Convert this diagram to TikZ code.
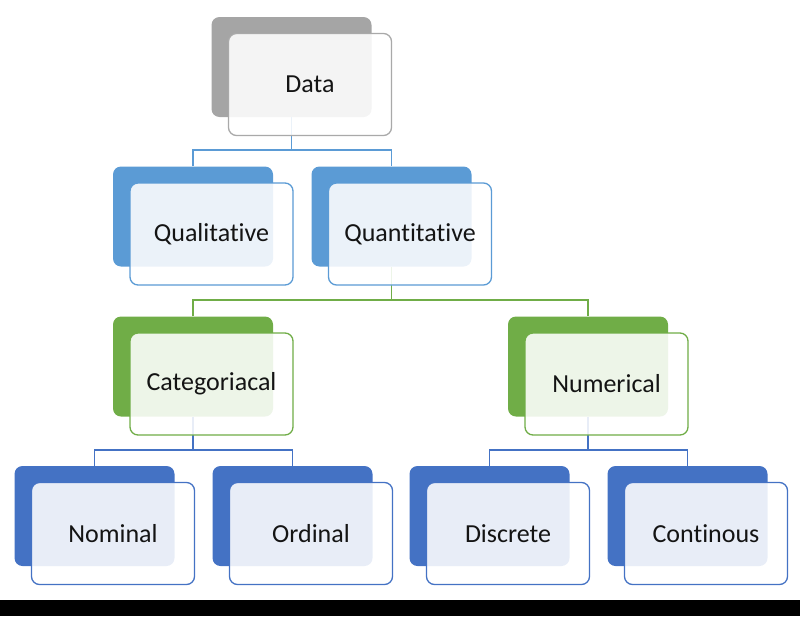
\documentclass[tikz,border=0pt]{standalone}
\usepackage{fontspec}
\setmainfont{Carlito}[Ligatures={NoCommon,NoContextual},Contextuals=NoAlternate]
\usetikzlibrary{backgrounds}
\definecolor{cgray}{HTML}{A5A5A5}
\definecolor{cgrayb}{HTML}{A9A9A9}
\definecolor{cblue}{HTML}{5B9BD5}
\definecolor{cgreen}{HTML}{70AD47}
\definecolor{cdblue}{HTML}{4472C4}
\definecolor{textcol}{HTML}{141414}
\begin{document}
\begin{tikzpicture}[x=1pt,y=-1pt,
  backbox/.style={draw=none, fill=#1, rounded corners=8pt, minimum width=160pt, minimum height=100pt, inner sep=0pt},
  frontbox/.style={draw=#1, line width=1.3pt, fill=white, fill opacity=0.88, text opacity=1, rounded corners=8pt, minimum width=163pt, minimum height=102pt, inner sep=0pt, font=\fontsize{26}{30}\selectfont, text=textcol},
  conn/.style={draw=#1, line width=1.5pt}]
\useasboundingbox (0,0) rectangle (800,616);
\fill[black] (0,600) rectangle (800,616);
% level 0
\node[backbox=cgray] (dataB) at (291.5,67) {};
\node[frontbox=cgrayb] (dataF) at (310,84.5) {Data};
% level 1
\node[backbox=cblue] (qualB) at (193,216.5) {};
\node[frontbox=cblue] (qualF) at (211.5,234) {Qualitat\kern0pt ive};
\node[backbox=cblue] (quanB) at (391.5,216.5) {};
\node[frontbox=cblue] (quanF) at (410,234) {Quant\kern0pt itat\kern0pt ive};
% level 2
\node[backbox=cgreen] (catB) at (193,366.5) {};
\node[frontbox=cgreen] (catF) at (211.5,384) {Categoriacal};
\node[backbox=cgreen] (numB) at (588,366.5) {};
\node[frontbox=cgreen] (numF) at (606.5,384) {Numerical};
% level 3
\node[backbox=cdblue] (nomB) at (94.5,516) {};
\node[frontbox=cdblue] (nomF) at (113,533.5) {Nominal};
\node[backbox=cdblue] (ordB) at (292.5,516) {};
\node[frontbox=cdblue] (ordF) at (311,533.5) {Ordinal};
\node[backbox=cdblue] (disB) at (489.5,516) {};
\node[frontbox=cdblue] (disF) at (508,533.5) {Discrete};
\node[backbox=cdblue] (conB) at (687.5,516) {};
\node[frontbox=cdblue] (conF) at (706,533.5) {Cont\kern0pt inous};
% junctions
\coordinate (j1) at (dataB.south |- 0,150);
\coordinate (j2) at (quanB.south |- 0,300);
\coordinate (j3) at (catB.south |- 0,450);
\coordinate (j4) at (numB.south |- 0,450);
\begin{pgfonlayer}{background}
\draw[conn=cblue] (dataB.south) -- (j1);
\draw[conn=cblue] (qualB.north) |- (j1) -| (quanB.north);
\draw[conn=cgreen] (quanB.south) -- (j2);
\draw[conn=cgreen] (catB.north) |- (j2) -| (numB.north);
\draw[conn=cdblue] (catB.south) -- (j3);
\draw[conn=cdblue] (nomB.north) |- (j3) -| (ordB.north);
\draw[conn=cdblue] (numB.south) -- (j4);
\draw[conn=cdblue] (disB.north) |- (j4) -| (conB.north);
\end{pgfonlayer}
\end{tikzpicture}
\end{document}
